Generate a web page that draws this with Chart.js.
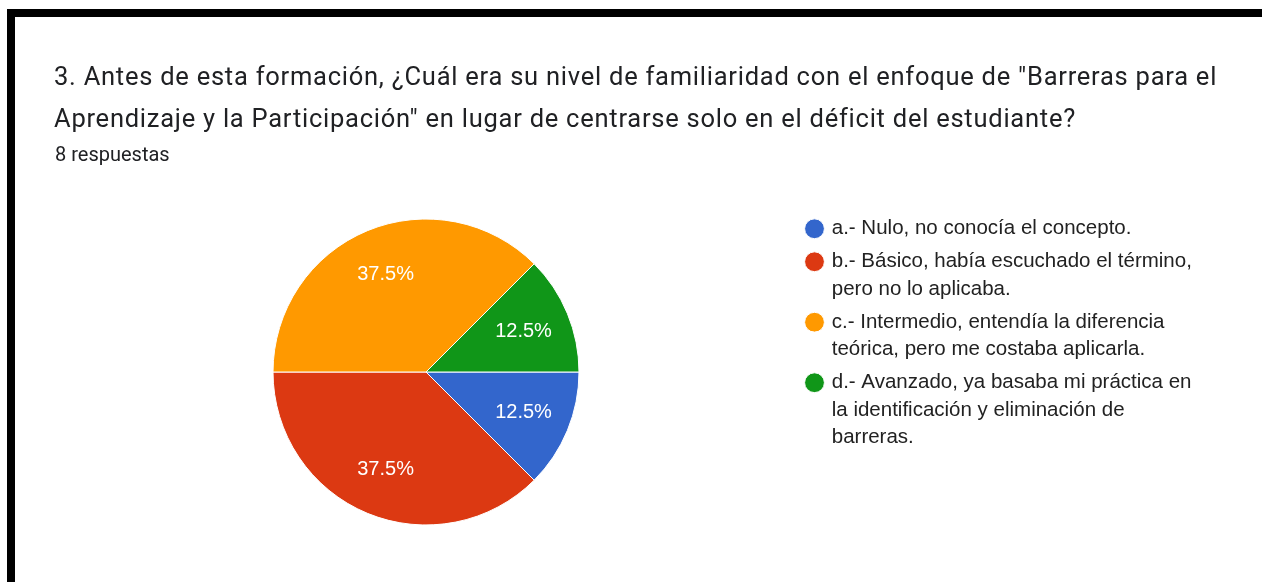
<!DOCTYPE html>
<html>
<head>
<meta charset="utf-8">
<script src="https://cdn.jsdelivr.net/npm/chart.js@4/dist/chart.umd.min.js"></script>
<style>
  html, body { margin: 0; padding: 0; background: #fff; }
  body { width: 1262px; height: 582px; position: relative; overflow: hidden; }
  .frame { position: absolute; left: 7px; top: 9px; right: -20px; bottom: -20px;
           border-top: 8px solid #000; border-left: 8px solid #000; }
  .title { position: absolute; left: 54px; top: 54.5px; font: 25.5px Roboto, sans-serif;
           letter-spacing: 0.75px; line-height: 42px; color: #202124; white-space: nowrap; }
  .count { position: absolute; left: 55px; top: 142px; font: 20px Roboto, sans-serif;
           line-height: 24px; color: #202124; }
  #chart { position: absolute; left: 0; top: 0; }
</style>
</head>
<body>
<div class="frame"></div>
<canvas id="chart" width="1262" height="582"></canvas>
<div class="title">3. Antes de esta formación, ¿Cuál era su nivel de familiaridad con el enfoque de "Barreras para el<br>Aprendizaje y la Participación" en lugar de centrarse solo en el déficit del estudiante?</div>
<div class="count">8 respuestas</div>
<script>
const categories = [
  ['a.- Nulo, no conocía el concepto.'],
  ['b.- Básico, había escuchado el término,', 'pero no lo aplicaba.'],
  ['c.- Intermedio, entendía la diferencia', 'teórica, pero me costaba aplicarla.'],
  ['d.- Avanzado, ya basaba mi práctica en', 'la identificación y eliminación de', 'barreras.']
];
const responses = [1, 3, 3, 1];
const colors = ['#3366cc', '#dc3912', '#ff9900', '#109618'];

// percent labels inside the slices
const sliceLabels = {
  id: 'sliceLabels',
  afterDatasetsDraw(chart) {
    const ctx = chart.ctx;
    const arcs = chart.getDatasetMeta(0).data;
    const total = responses.reduce((a, b) => a + b, 0);
    ctx.save();
    ctx.fillStyle = '#ffffff';
    ctx.font = '20px "Liberation Sans", Arial, sans-serif';
    ctx.textAlign = 'center';
    ctx.textBaseline = 'middle';
    arcs.forEach((arc, i) => {
      const mid = (arc.startAngle + arc.endAngle) / 2;
      const r = arc.outerRadius * 0.69;
      const pct = (responses[i] / total * 100).toFixed(1) + '%';
      ctx.fillText(pct, arc.x + Math.cos(mid) * r, arc.y + Math.sin(mid) * r);
    });
    ctx.restore();
  }
};

const chart = new Chart(document.getElementById('chart'), {
  type: 'pie',
  data: {
    labels: categories,
    datasets: [{
      data: responses,
      backgroundColor: colors,
      borderColor: '#ffffff',
      borderWidth: 1,
      radius: 153
    }]
  },
  options: {
    responsive: false,
    animation: false,
    rotation: 90,
    layout: { padding: { left: 50, right: 60, top: 213, bottom: 51 } },
    plugins: {
      tooltip: { enabled: false },
      legend: {
        position: 'right',
        align: 'start',
        labels: {
          usePointStyle: true,
          pointStyle: 'circle',
          boxWidth: 14,
          boxHeight: 14,
          padding: 5.5,
          color: '#222222',
          font: { family: '"Liberation Sans", Arial, sans-serif', size: 20.5, lineHeight: 1.341 }
        }
      }
    }
  },
  plugins: [sliceLabels]
});

// put the legend's left edge where the pie area ends
const legendLeft = 802;
chart.options.layout.padding.right = 1262 - legendLeft - chart.legend.width;
chart.update();
</script>
</body>
</html>
